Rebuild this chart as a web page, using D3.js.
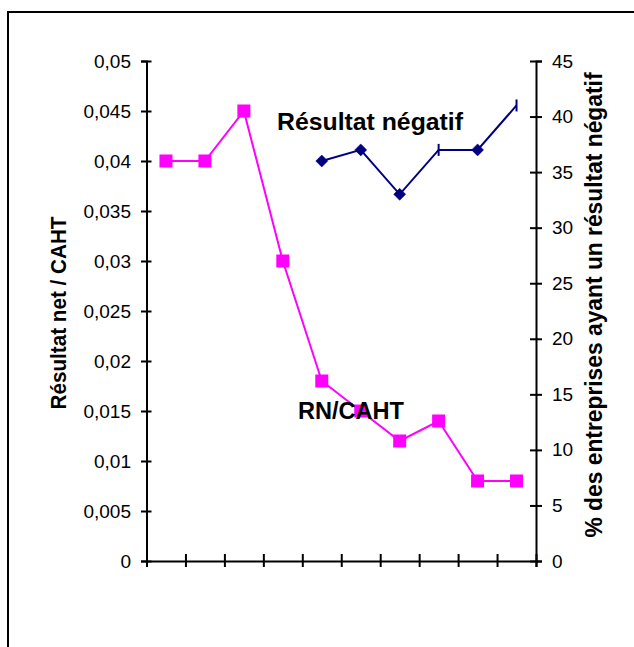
<!DOCTYPE html>
<html>
<head>
<meta charset="utf-8">
<title>RN/CAHT et résultat négatif</title>
<script src="https://cdn.jsdelivr.net/npm/d3@7"></script>
<style>
	body { margin: 0; background: #fff; }
	text { font-family: "Liberation Sans", Arial, sans-serif; fill: #000; }
</style>
</head>
<body>
<script>
// categories (no labels shown on the x axis)
var categories = [1, 2, 3, 4, 5, 6, 7, 8, 9, 10];
// RN / CAHT (left axis)
var rnCaht = [0.04, 0.04, 0.045, 0.03, 0.018, 0.015, 0.012, 0.014, 0.008, 0.008];
// % des entreprises ayant un résultat négatif (right axis)
var negatif = [null, null, null, null, 36, 37, 33, 37, 37, 41];

var leftTicks = [0, 0.005, 0.01, 0.015, 0.02, 0.025, 0.03, 0.035, 0.04, 0.045, 0.05];
var leftTickLabels = ["0", "0,005", "0,01", "0,015", "0,02", "0,025", "0,03", "0,035", "0,04", "0,045", "0,05"];
var rightTicks = [0, 5, 10, 15, 20, 25, 30, 35, 40, 45];

var svg_width = 634, svg_height = 647;
var plot = {left: 146.5, right: 536, top: 61, bottom: 561};

var svg = d3.select("body").append("svg")
	.attr("width", svg_width)
	.attr("height", svg_height);

// outer frame (only left and top edges visible)
svg.append("path")
	.attr("d", "M8," + svg_height + "V12H" + svg_width)
	.attr("fill", "none")
	.attr("stroke", "#000")
	.attr("stroke-width", 2);

var x = d3.scaleBand().domain(categories).range([plot.left, plot.right]);
var xEdges = d3.scaleLinear().domain([0, categories.length]).range([plot.left, plot.right]);
var yL = d3.scaleLinear().domain([0, 0.05]).range([plot.bottom, plot.top]);
var yR = d3.scaleLinear().domain([0, 45]).range([plot.bottom, plot.top]);

function styleAxis(g) {
	g.selectAll("path.domain").attr("stroke", "#000").attr("stroke-width", 2);
	g.selectAll(".tick line").attr("stroke", "#000").attr("stroke-width", 2);
	g.selectAll(".tick text").style("font-size", "19px").attr("fill", "#000");
}

// left axis
var gL = svg.append("g")
	.attr("transform", "translate(" + plot.left + ",0)")
	.call(d3.axisLeft(yL).tickValues(leftTicks).tickSizeOuter(0).tickSize(5.5).tickPadding(10)
		.tickFormat(function(d, i) { return leftTickLabels[i]; }));
styleAxis(gL);
gL.selectAll(".tick line").attr("x2", 5).attr("x1", -5.5);

// right axis
var gR = svg.append("g")
	.attr("transform", "translate(" + plot.right + ",0)")
	.call(d3.axisRight(yR).tickValues(rightTicks).tickSizeOuter(0).tickSize(6).tickPadding(10));
styleAxis(gR);
gR.selectAll(".tick line").attr("x1", -6).attr("x2", 6);

// bottom axis, ticks on category boundaries
var gB = svg.append("g")
	.attr("transform", "translate(0," + plot.bottom + ")")
	.call(d3.axisBottom(xEdges).ticks(categories.length).tickSizeOuter(0).tickSize(6).tickFormat(""));
styleAxis(gB);
gB.selectAll(".tick line").attr("y1", -7).attr("y2", 6);

function cx(d, i) { return x(categories[i]) + x.bandwidth() / 2; }

// RN/CAHT series
var pink = "#ff00ff";
svg.append("path")
	.datum(rnCaht)
	.attr("fill", "none")
	.attr("stroke", pink)
	.attr("stroke-width", 2)
	.attr("d", d3.line().x(cx).y(function(d) { return yL(d); }));
svg.append("g").selectAll("rect")
	.data(rnCaht)
	.enter().append("rect")
	.attr("x", function(d, i) { return cx(d, i) - 6.5; })
	.attr("y", function(d) { return yL(d) - 6.5; })
	.attr("width", 13)
	.attr("height", 13)
	.attr("fill", pink);

// résultat négatif series
var navy = "#000080";
svg.append("path")
	.datum(negatif)
	.attr("fill", "none")
	.attr("stroke", navy)
	.attr("stroke-width", 2)
	.attr("d", d3.line().defined(function(d) { return d != null; }).x(cx).y(function(d) { return yR(d); }));
var barMarkers = [7, 9]; // these points are drawn as a short bar in the original
svg.append("g").selectAll("path")
	.data(negatif.map(function(d, i) { return {v: d, i: i}; }).filter(function(d) { return d.v != null; }))
	.enter().append("path")
	.attr("transform", function(d) { return "translate(" + cx(d.v, d.i) + "," + yR(d.v) + ")"; })
	.attr("d", function(d) { return barMarkers.indexOf(d.i) >= 0 ? "M0,-6V6" : "M0,-6L6,0L0,6L-6,0Z"; })
	.attr("fill", navy)
	.attr("stroke", navy)
	.attr("stroke-width", function(d) { return barMarkers.indexOf(d.i) >= 0 ? 2 : 0.5; });

// series labels
svg.append("text")
	.attr("x", 277).attr("y", 130)
	.style("font-size", "24px").style("font-weight", "bold")
	.attr("textLength", 186).attr("lengthAdjust", "spacingAndGlyphs")
	.text("Résultat négatif");
svg.append("text")
	.attr("x", 298).attr("y", 419)
	.style("font-size", "24px").style("font-weight", "bold")
	.attr("textLength", 106).attr("lengthAdjust", "spacingAndGlyphs")
	.text("RN/CAHT");

// axis titles
svg.append("text")
	.attr("transform", "translate(66,313) rotate(-90)")
	.attr("text-anchor", "middle")
	.style("font-size", "22px").style("font-weight", "bold")
	.attr("textLength", 193).attr("lengthAdjust", "spacingAndGlyphs")
	.text("Résultat net / CAHT");
svg.append("text")
	.attr("transform", "translate(602,305) rotate(-90)")
	.attr("text-anchor", "middle")
	.style("font-size", "23px").style("font-weight", "bold")
	.attr("textLength", 465).attr("lengthAdjust", "spacingAndGlyphs")
	.text("% des entreprises ayant un résultat négatif");
</script>
</body>
</html>
